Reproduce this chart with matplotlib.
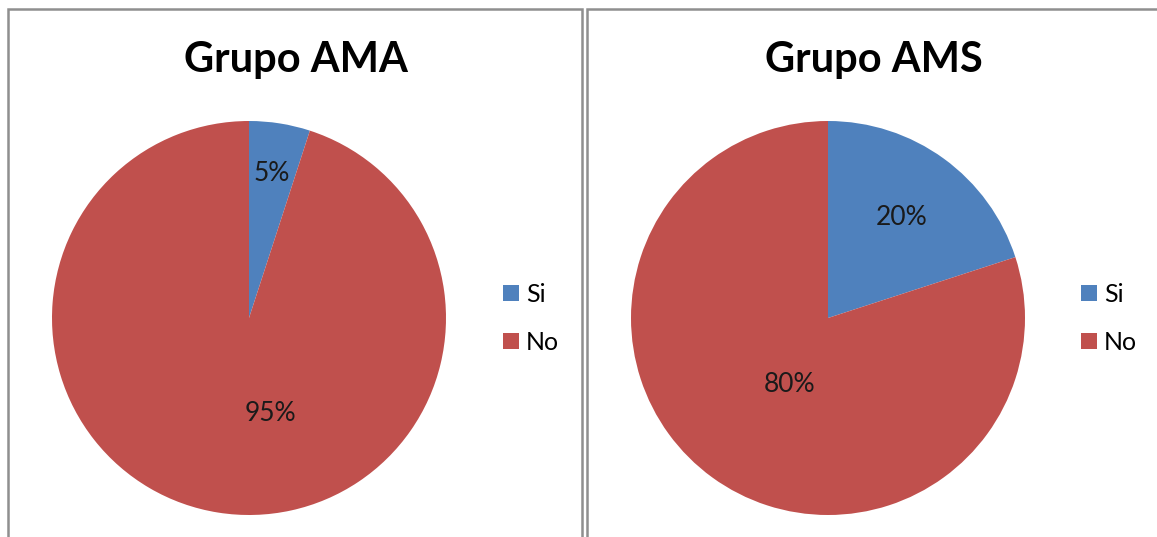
import matplotlib.pyplot as plt
from matplotlib.patches import Rectangle

plt.rcParams['font.family'] = ['Lato', 'DejaVu Sans']

categorias = ["Si", "No"]
grupos = ["Grupo AMA", "Grupo AMS"]
valores_ama = [5, 95]
valores_ams = [20, 80]
cores = ["#4F81BD", "#C0504D"]

# posicoes dos rotulos (em unidades do raio), como no Excel
pos_rotulos = [
    [(0.117, 0.736), (0.107, -0.487)],
    [(0.376, 0.508), (-0.193, -0.340)],
]

W, H = 1157, 537
fig = plt.figure(figsize=(W / 100, H / 100), dpi=100)

# molduras dos dois graficos
borda = "#8f8f8f"
fig.add_artist(Rectangle((8 / W, -0.05), 574 / W, 1.05 - 9 / H, transform=fig.transFigure,
                         fill=False, edgecolor=borda, linewidth=1.8))
fig.add_artist(Rectangle((587 / W, -0.05), 0.6, 1.05 - 9 / H, transform=fig.transFigure,
                         fill=False, edgecolor=borda, linewidth=1.8))

centros_x = [249, 828]
titulos_x = [296, 874]
legenda_x = [503, 1081]
raio = 197
cy = 318

for i, valores in enumerate([valores_ama, valores_ams]):
    ax = fig.add_axes([(centros_x[i] - raio) / W, (H - cy - raio) / H, 2 * raio / W, 2 * raio / H])
    wedges, textos, autotextos = ax.pie(valores, colors=cores, startangle=90, counterclock=False,
                                        autopct="%d%%", wedgeprops=dict(linewidth=0),
                                        textprops=dict(fontsize=19, color="#1a1a1a"))
    for t, (px, py) in zip(autotextos, pos_rotulos[i]):
        t.set_position((px, py))
    ax.set_xlim(-1, 1)
    ax.set_ylim(-1, 1)
    ax.set_aspect("equal")
    fig.text(titulos_x[i] / W, 1 - 60 / H, grupos[i], ha="center", va="center",
             fontsize=30, fontweight="bold")
    fig.legend(wedges, categorias, loc="center left",
               bbox_to_anchor=(legenda_x[i] / W, 1 - 318 / H), frameon=False,
               fontsize=18, handlelength=0.62, handleheight=0.62, handletextpad=0.3,
               labelspacing=1.0, borderpad=0, borderaxespad=0)

fig.savefig("out.png", dpi=100)
